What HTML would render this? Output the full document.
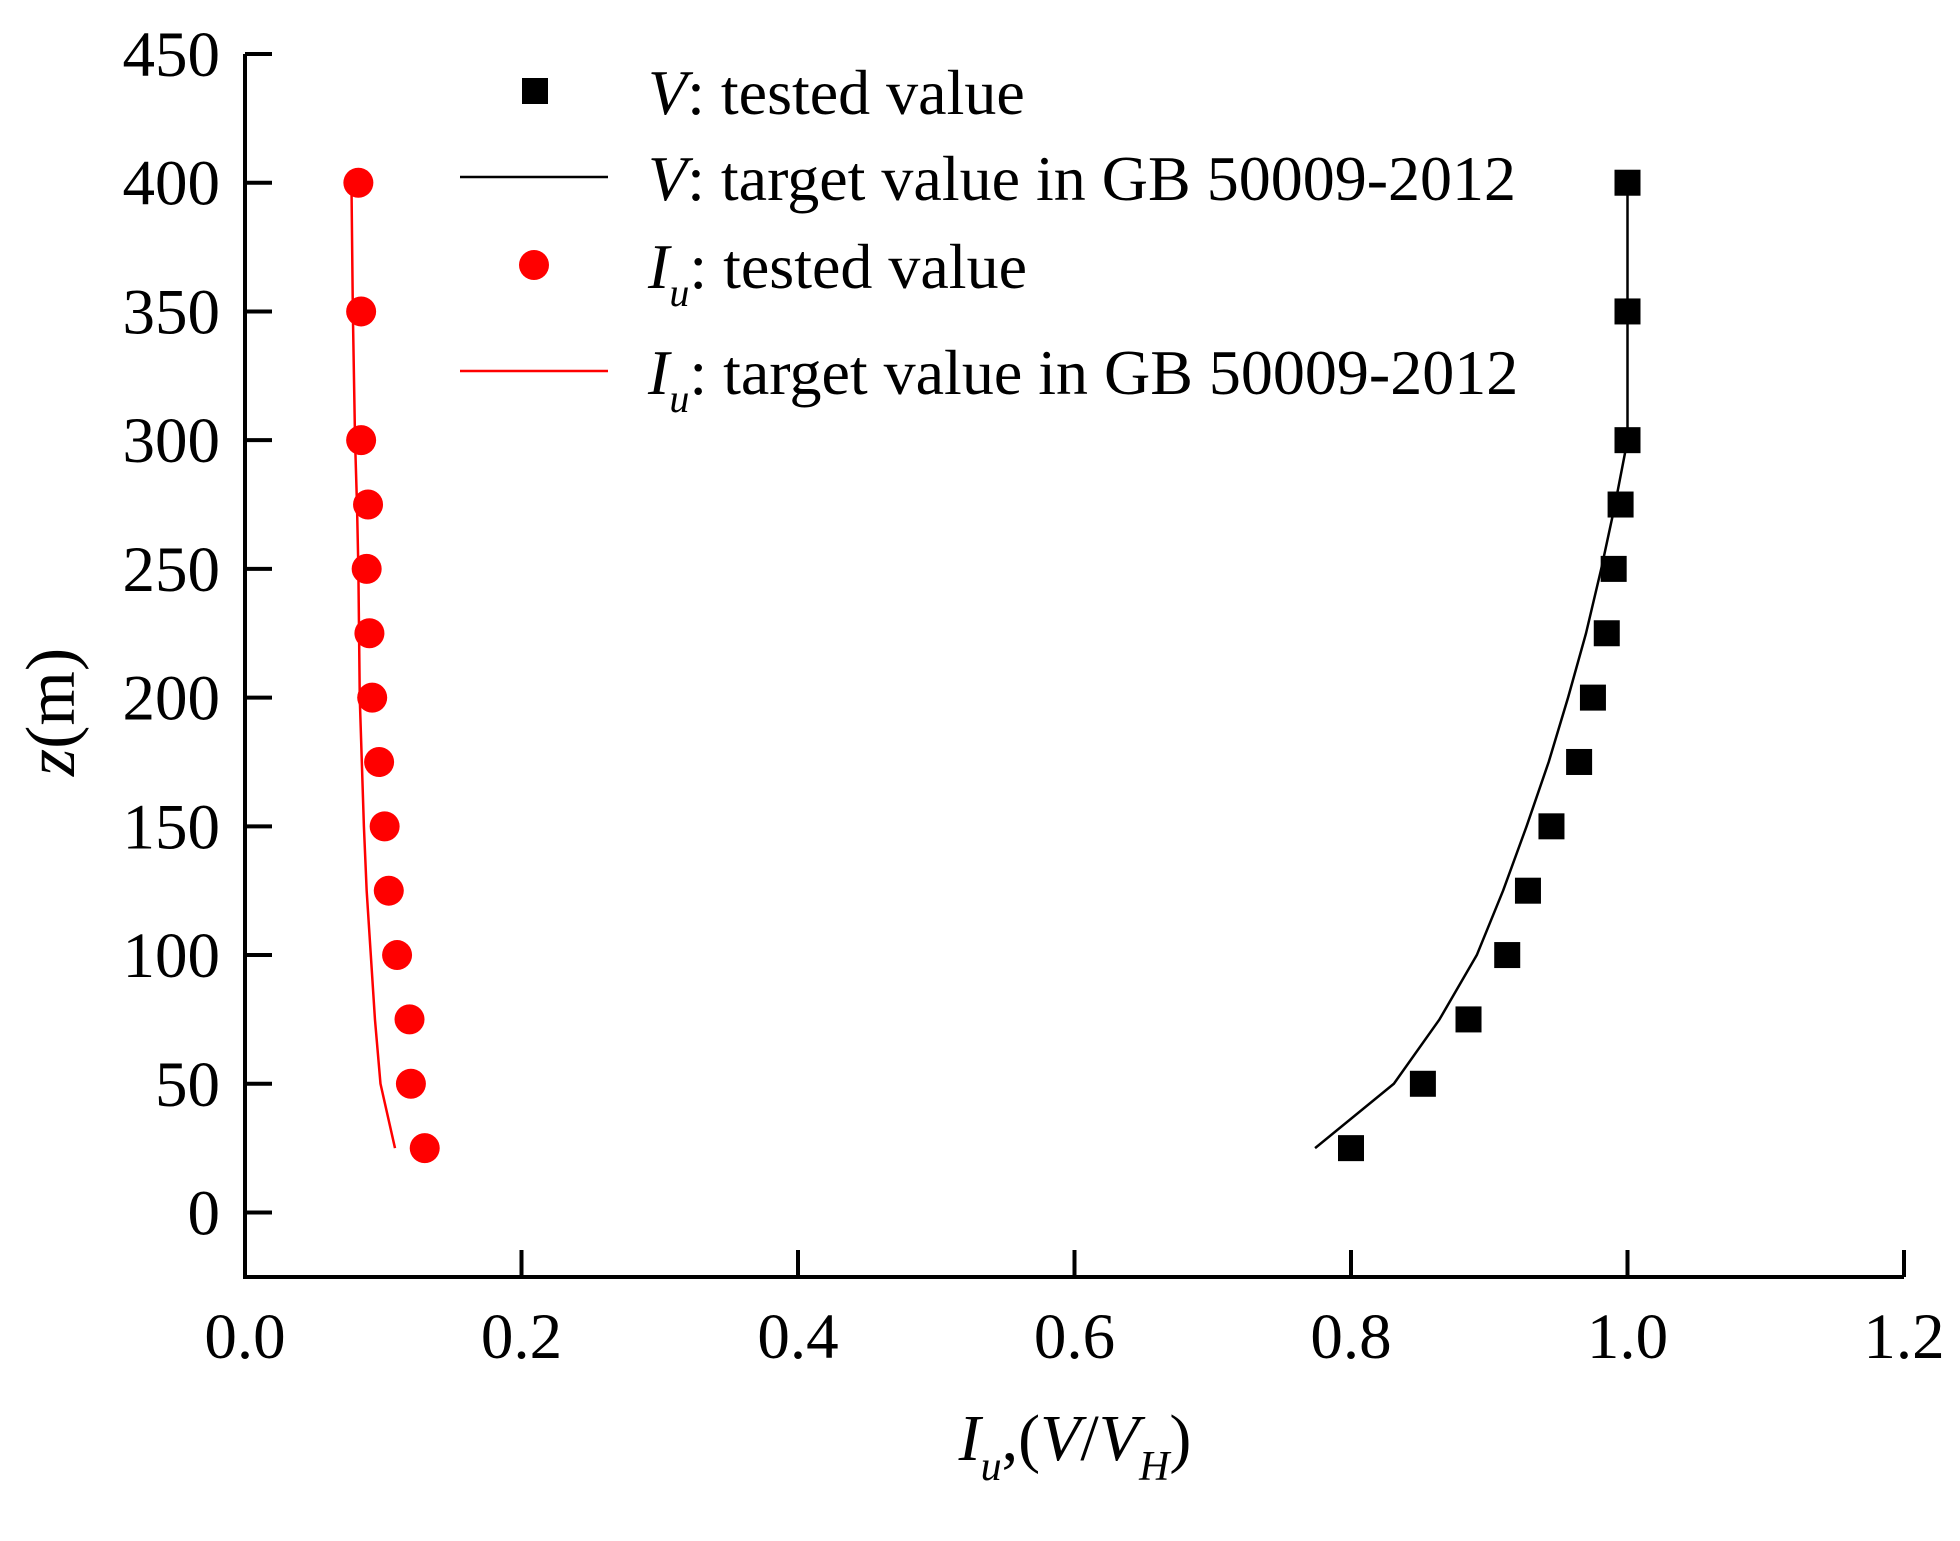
<!DOCTYPE html>
<html><head><meta charset="utf-8"><style>
body{margin:0;background:#fff}
svg text{font-family:"Liberation Serif",serif;fill:#000}
</style></head><body>
<svg id="chart" width="1960" height="1536" viewBox="0 0 1960 1536" xmlns="http://www.w3.org/2000/svg">
<g id="axes"></g><g id="series"></g>
<g>
 <rect x="522" y="78" width="26" height="26" fill="#000"/>
 <text x="648" y="114" font-size="64"><tspan font-style="italic">V</tspan>: tested value</text>
 <line x1="460" y1="177" x2="608" y2="177" stroke="#000" stroke-width="2.5"/>
 <text x="648" y="200" font-size="64"><tspan font-style="italic">V</tspan>: target value in GB 50009-2012</text>
 <circle cx="534" cy="265" r="15" fill="#f00"/>
 <text x="648" y="288" font-size="64"><tspan font-style="italic">I</tspan><tspan font-style="italic" font-size="40" dy="18">u</tspan><tspan dy="-18">: tested value</tspan></text>
 <line x1="460" y1="371" x2="608" y2="371" stroke="#f00" stroke-width="2.5"/>
 <text x="648" y="394" font-size="64"><tspan font-style="italic">I</tspan><tspan font-style="italic" font-size="40" dy="18">u</tspan><tspan dy="-18">: target value in GB 50009-2012</tspan></text>
</g>
<text transform="translate(74,712) rotate(-90)" text-anchor="middle" font-size="70"><tspan font-style="italic">z</tspan>(m)</text>
<text x="1075" y="1460" text-anchor="middle" font-size="66"><tspan font-style="italic">I</tspan><tspan font-style="italic" font-size="42" dy="20">u</tspan><tspan dy="-20">,(</tspan><tspan font-style="italic">V</tspan>/<tspan font-style="italic">V</tspan><tspan font-style="italic" font-size="42" dy="20">H</tspan><tspan dy="-20">)</tspan></text>
</svg>
<script>
const heights=[400,350,300,275,250,225,200,175,150,125,100,75,50,25];
const vTested=[1.0,1.0,1.0,0.995,0.99,0.985,0.975,0.965,0.945,0.928,0.913,0.885,0.852,0.80];
const iuTested=[0.082,0.084,0.084,0.089,0.088,0.09,0.092,0.097,0.101,0.104,0.11,0.119,0.12,0.13];
const targetHeights=[400,350,300,275,250,225,200,175,150,125,100,75,50,25];
const vTarget=[1.0,1.0,1.0,0.991,0.981,0.97,0.957,0.943,0.927,0.91,0.891,0.864,0.831,0.774];
const iuTarget=[0.077,0.078,0.0796,0.081,0.082,0.0825,0.083,0.0845,0.086,0.088,0.091,0.094,0.098,0.1085];
const xTicks=["0.0","0.2","0.4","0.6","0.8","1.0","1.2"];
const yTicks=["0","50","100","150","200","250","300","350","400","450"];
const NS="http://www.w3.org/2000/svg";
const X=v=>245+(v/1.2)*1659;
const Y=z=>1212.5-(z/450)*1158.5;
function mk(tag,attrs,parent){const e=document.createElementNS(NS,tag);for(const k in attrs)e.setAttribute(k,attrs[k]);parent.appendChild(e);return e;}
const ax=document.getElementById('axes'),se=document.getElementById('series');
let l=mk('line',{x1:245,y1:54,x2:245,y2:1279,stroke:'#000','stroke-width':4},ax);


l=mk('line',{x1:243,y1:1277,x2:1904,y2:1277,stroke:'#000','stroke-width':4},ax);


xTicks.forEach(t=>{const x=X(parseFloat(t));
 const tk=mk('line',{x1:x,y1:1277,x2:x,y2:1250,stroke:'#000','stroke-width':4},ax);
 
 
 const tx=mk('text',{x:x,y:1358,'text-anchor':'middle','font-size':65},ax);tx.textContent=t;
 
 
});
yTicks.forEach(t=>{const y=Y(parseFloat(t));
 const tk=mk('line',{x1:245,y1:y,x2:272,y2:y,stroke:'#000','stroke-width':4},ax);
 
 
 const tx=mk('text',{x:220,y:y+22,'text-anchor':'end','font-size':65},ax);tx.textContent=t;
 
 
});
function line(vals,color,name){const p=mk('polyline',{points:vals.map((v,i)=>X(v)+','+Y(targetHeights[i])).join(' '),fill:'none',stroke:color,'stroke-width':2.5,'stroke-linejoin':'round'},se);
 
 }
line(vTarget,'#000','v-target-line');
line(iuTarget,'#f00','iu-target-line');
vTested.forEach((v,i)=>{const r=mk('rect',{x:X(v)-13,y:Y(heights[i])-13,width:26,height:26,fill:'#000'},se);
 
 });
iuTested.forEach((v,i)=>{const c=mk('circle',{cx:X(v),cy:Y(heights[i]),r:15,fill:'#f00'},se);
 
 });
</script>
</body></html>
